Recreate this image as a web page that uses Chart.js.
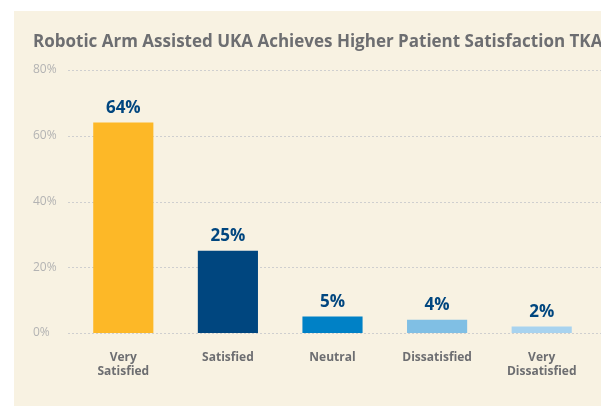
<!DOCTYPE html>
<html>
<head>
<meta charset="utf-8">
<script src="https://cdn.jsdelivr.net/npm/chart.js@4"></script>
<style>
  html, body { margin: 0; padding: 0; background: #fff; }
  #wrap { width: 601px; height: 406px; }
</style>
</head>
<body>
<div id="wrap"><canvas id="chart"></canvas></div>
<script>
var titleText = 'Robotic Arm Assisted UKA Achieves Higher Patient Satisfaction TKA';
var categories = [['Very', 'Satisfied'], 'Satisfied', 'Neutral', 'Dissatisfied', ['Very', 'Dissatisfied']];
var values = [64, 25, 5, 4, 2];
var barColors = ['#fdb827', '#00467f', '#0081c6', '#80bfe4', '#a8d3ef'];
var yTicks = [0, 20, 40, 60, 80];

// cream panel behind the chart, title drawn here so it can run off the edge like the original
var panel = {
  id: 'panel',
  beforeDraw: function(chart) {
    var ctx = chart.ctx;
    ctx.save();
    ctx.fillStyle = '#fff';
    ctx.fillRect(0, 0, chart.width, chart.height);
    ctx.fillStyle = '#f8f2e2';
    ctx.fillRect(14, 11, chart.width - 14, chart.height - 11);
    ctx.fillStyle = '#6d6e71';
    ctx.font = 'bold 17px "Open Sans"';
    ctx.textAlign = 'left';
    ctx.textBaseline = 'alphabetic';
    ctx.fillText(titleText, 33, 47);
    ctx.restore();
  }
};

// dotted grid lines that run past the plot to the right edge
var dotGrid = {
  id: 'dotGrid',
  beforeDatasetsDraw: function(chart) {
    var ctx = chart.ctx, y = chart.scales.y;
    ctx.save();
    ctx.strokeStyle = '#cfcfcf';
    ctx.lineWidth = 1;
    ctx.setLineDash([2, 2]);
    yTicks.forEach(function(v) {
      var py = Math.round(y.getPixelForValue(v)) + 0.5;
      ctx.beginPath();
      ctx.moveTo(68, py);
      ctx.lineTo(chart.width, py);
      ctx.stroke();
    });
    ctx.restore();
  }
};

// value labels above each bar
var valueLabels = {
  id: 'valueLabels',
  afterDatasetsDraw: function(chart) {
    var ctx = chart.ctx;
    var meta = chart.getDatasetMeta(0);
    ctx.save();
    ctx.fillStyle = '#00467f';
    ctx.font = 'bold 17px "Open Sans"';
    ctx.textAlign = 'center';
    ctx.textBaseline = 'bottom';
    meta.data.forEach(function(bar, i) {
      ctx.fillText(values[i] + '%', bar.x, bar.y - 6);
    });
    ctx.restore();
  }
};

var config = {
  type: 'bar',
  data: {
    labels: categories,
    datasets: [{
      data: values,
      backgroundColor: barColors,
      borderWidth: 0,
      categoryPercentage: 1,
      barPercentage: 0.575
    }]
  },
  options: {
    responsive: true,
    maintainAspectRatio: false,
    animation: false,
    layout: { padding: { left: 33, right: 7, top: 70, bottom: 0 } },
    plugins: {
      legend: { display: false },
      tooltip: { enabled: false },
      title: { display: false }
    },
    scales: {
      x: {
        grid: { display: false },
        border: { display: false },
        ticks: {
          color: '#6d6e71',
          font: { family: 'Open Sans', size: 12, weight: 'bold', lineHeight: 1.15 },
          padding: 10,
          maxRotation: 0
        },
        afterFit: function(scale) { scale.height = 73; }
      },
      y: {
        min: 0,
        max: 80,
        afterBuildTicks: function(scale) {
          scale.ticks = yTicks.map(function(v) { return { value: v }; });
        },
        grid: { display: false },
        border: { display: false },
        ticks: {
          color: '#b3b3b3',
          font: { family: 'Open Sans', size: 12 },
          crossAlign: 'far',
          padding: 0,
          callback: function(v) { return v + '%'; }
        },
        afterFit: function(scale) { scale.width = 38; }
      }
    }
  },
  plugins: [panel, dotGrid, valueLabels]
};

new Chart(document.getElementById('chart').getContext('2d'), config);
</script>
</body>
</html>
